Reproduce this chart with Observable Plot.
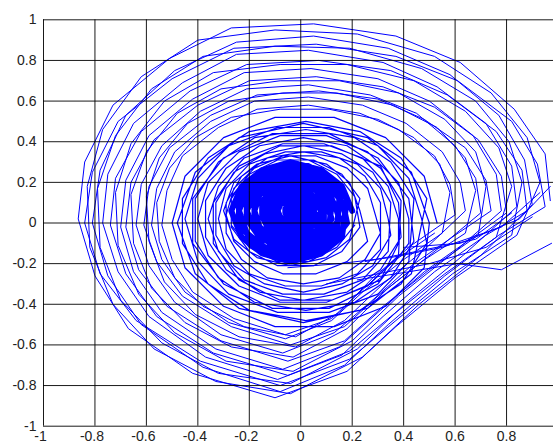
<!DOCTYPE html>
<html>
<head>
<meta charset="utf-8">
<script src="https://cdn.jsdelivr.net/npm/d3@7"></script>
<script src="https://cdn.jsdelivr.net/npm/@observablehq/plot@0.6"></script>
<style>
  html, body { margin: 0; padding: 0; background: #fff; overflow: hidden; }
  #chart svg { display: block; font-family: Arial, "Liberation Sans", sans-serif; }
</style>
</head>
<body>
<div id="chart"></div>
<script>
// Tick values (grid) and the x tick labels visible in the window
const xTicks = [-1, -0.8, -0.6, -0.4, -0.2, 0, 0.2, 0.4, 0.6, 0.8, 1];
const yTicks = [-1, -0.8, -0.6, -0.4, -0.2, 0, 0.2, 0.4, 0.6, 0.8, 1];
const xLabelTicks = [-1, -0.8, -0.6, -0.4, -0.2, 0, 0.2, 0.4, 0.6, 0.8];

// Outer loops of the trajectory, [x, y]
const outerLoops = [
  [[0.97,0.11],[0.95,0.34],[0.83,0.56],[0.62,0.79],[0.37,0.92],[0.05,0.98],[-0.27,0.96],[-0.51,0.81],[-0.73,0.58],[-0.84,0.30],[-0.865,0.02],[-0.80,-0.26],[-0.67,-0.52],[-0.42,-0.74],[-0.10,-0.86],[0.18,-0.73],[0.37,-0.51],[0.60,-0.27],[0.84,-0.06]],
  [[0.93,0.20],[0.88,0.42],[0.74,0.64],[0.52,0.82],[0.22,0.93],[-0.10,0.95],[-0.40,0.90],[-0.62,0.72],[-0.77,0.46],[-0.83,0.18],[-0.82,-0.12],[-0.73,-0.40],[-0.57,-0.62],[-0.33,-0.78],[-0.04,-0.84],[0.24,-0.66],[0.46,-0.40],[0.70,-0.16]],
  [[0.90,0.09],[0.87,0.31],[0.77,0.53],[0.58,0.73],[0.34,0.86],[0.05,0.92],[-0.25,0.89],[-0.49,0.75],[-0.68,0.53],[-0.78,0.26],[-0.81,0.0],[-0.75,-0.26],[-0.62,-0.50],[-0.38,-0.71],[-0.08,-0.83],[0.17,-0.70],[0.34,-0.50],[0.56,-0.26],[0.77,-0.06]],
  [[0.95,0.08],[0.92,0.29],[0.82,0.50],[0.61,0.70],[0.37,0.82],[0.06,0.88],[-0.26,0.86],[-0.50,0.71],[-0.71,0.50],[-0.81,0.25],[-0.84,0.0],[-0.78,-0.25],[-0.64,-0.48],[-0.39,-0.68],[-0.08,-0.80],[0.19,-0.67],[0.37,-0.48],[0.59,-0.25],[0.82,-0.06]],
  [[0.86,0.20],[0.81,0.40],[0.68,0.60],[0.47,0.76],[0.19,0.86],[-0.10,0.87],[-0.38,0.82],[-0.58,0.66],[-0.72,0.43],[-0.79,0.17],[-0.78,-0.12],[-0.70,-0.38],[-0.54,-0.59],[-0.32,-0.74],[-0.04,-0.79],[0.22,-0.62],[0.42,-0.38],[0.64,-0.15]],
  [[0.84,0.08],[0.82,0.28],[0.72,0.49],[0.53,0.67],[0.32,0.79],[0.03,0.85],[-0.25,0.83],[-0.46,0.69],[-0.65,0.49],[-0.75,0.24],[-0.77,0.0],[-0.71,-0.24],[-0.59,-0.46],[-0.37,-0.66],[-0.09,-0.77],[0.16,-0.65],[0.32,-0.46],[0.52,-0.24],[0.72,-0.06]],
  [[0.88,0.06],[0.86,0.26],[0.76,0.45],[0.57,0.63],[0.35,0.75],[0.07,0.80],[-0.21,0.78],[-0.43,0.65],[-0.62,0.45],[-0.72,0.22],[-0.74,-0.01],[-0.68,-0.25],[-0.56,-0.46],[-0.34,-0.64],[-0.05,-0.75],[0.19,-0.63],[0.35,-0.46],[0.56,-0.25],[0.76,-0.07]],
  [[0.82,0.18],[0.77,0.37],[0.64,0.55],[0.44,0.70],[0.18,0.78],[-0.08,0.78],[-0.34,0.74],[-0.53,0.60],[-0.66,0.39],[-0.72,0.15],[-0.71,-0.11],[-0.63,-0.35],[-0.49,-0.54],[-0.29,-0.68],[-0.03,-0.73],[0.20,-0.58],[0.38,-0.36],[0.60,-0.14]],
  [[0.78,0.06],[0.76,0.24],[0.67,0.43],[0.50,0.60],[0.30,0.71],[0.04,0.76],[-0.22,0.74],[-0.42,0.61],[-0.59,0.43],[-0.68,0.21],[-0.70,-0.02],[-0.65,-0.24],[-0.54,-0.44],[-0.33,-0.62],[-0.07,-0.72],[0.15,-0.61],[0.30,-0.44],[0.48,-0.24],[0.67,-0.07]],
  [[0.80,0.05],[0.78,0.23],[0.69,0.41],[0.52,0.57],[0.32,0.67],[0.06,0.72],[-0.20,0.70],[-0.40,0.58],[-0.57,0.41],[-0.66,0.20],[-0.68,-0.02],[-0.63,-0.23],[-0.52,-0.41],[-0.31,-0.58],[-0.05,-0.68],[0.17,-0.58],[0.32,-0.41],[0.50,-0.23],[0.69,-0.06]],
  [[0.72,0.18],[0.68,0.35],[0.56,0.51],[0.38,0.64],[0.15,0.70],[-0.08,0.70],[-0.31,0.66],[-0.48,0.54],[-0.60,0.35],[-0.66,0.14],[-0.65,-0.10],[-0.58,-0.32],[-0.45,-0.49],[-0.27,-0.61],[-0.03,-0.66],[0.18,-0.52],[0.34,-0.32],[0.53,-0.13]],
  [[0.70,0.05],[0.68,0.22],[0.60,0.38],[0.45,0.54],[0.27,0.63],[0.03,0.68],[-0.21,0.66],[-0.39,0.55],[-0.54,0.38],[-0.62,0.19],[-0.64,-0.01],[-0.59,-0.21],[-0.49,-0.39],[-0.31,-0.55],[-0.07,-0.64],[0.13,-0.54],[0.27,-0.39],[0.43,-0.21],[0.60,-0.06]],
  [[0.74,0.06],[0.72,0.21],[0.64,0.37],[0.48,0.51],[0.30,0.61],[0.07,0.65],[-0.17,0.63],[-0.35,0.53],[-0.51,0.37],[-0.59,0.18],[-0.61,-0.01],[-0.56,-0.19],[-0.46,-0.36],[-0.27,-0.51],[-0.04,-0.60],[0.17,-0.51],[0.30,-0.36],[0.47,-0.19],[0.64,-0.05]],
  [[0.68,0.16],[0.64,0.32],[0.53,0.47],[0.36,0.58],[0.14,0.64],[-0.07,0.64],[-0.28,0.60],[-0.44,0.49],[-0.55,0.32],[-0.60,0.13],[-0.59,-0.09],[-0.53,-0.29],[-0.41,-0.45],[-0.24,-0.56],[-0.02,-0.61],[0.17,-0.48],[0.32,-0.30],[0.49,-0.12]],
  [[0.64,0.06],[0.62,0.20],[0.55,0.35],[0.41,0.49],[0.24,0.58],[0.03,0.62],[-0.18,0.60],[-0.35,0.50],[-0.49,0.35],[-0.56,0.17],[-0.58,-0.01],[-0.54,-0.18],[-0.45,-0.34],[-0.28,-0.49],[-0.06,-0.57],[0.12,-0.48],[0.24,-0.34],[0.40,-0.18],[0.55,-0.05]],
  [[0.58,0.15],[0.54,0.29],[0.44,0.42],[0.30,0.51],[0.11,0.56],[-0.08,0.56],[-0.27,0.52],[-0.41,0.42],[-0.51,0.27],[-0.56,0.10],[-0.55,-0.09],[-0.49,-0.27],[-0.38,-0.41],[-0.22,-0.51],[-0.02,-0.56],[0.15,-0.44],[0.28,-0.27],[0.43,-0.11]],
  [[0.60,0.04],[0.58,0.19],[0.52,0.33],[0.38,0.46],[0.23,0.54],[0.03,0.58],[-0.17,0.56],[-0.32,0.47],[-0.46,0.33],[-0.52,0.16],[-0.54,-0.01],[-0.50,-0.18],[-0.42,-0.34],[-0.26,-0.47],[-0.06,-0.55],[0.12,-0.47],[0.23,-0.34],[0.37,-0.18],[0.52,-0.05]]
];

// Middle loops
const midLoops = [
  [[0.53,0.0],[0.48,0.23],[0.33,0.42],[0.13,0.52],[-0.10,0.52],[-0.30,0.42],[-0.45,0.23],[-0.50,0.0],[-0.45,-0.22],[-0.30,-0.41],[-0.10,-0.51],[0.13,-0.51],[0.33,-0.41],[0.48,-0.22]],
  [[0.50,0.0],[0.43,0.25],[0.26,0.42],[0.01,0.49],[-0.24,0.42],[-0.41,0.25],[-0.48,0.0],[-0.41,-0.25],[-0.24,-0.42],[0.01,-0.49],[0.26,-0.42],[0.43,-0.25]],
  [[0.49,0.12],[0.39,0.32],[0.23,0.45],[0.02,0.50],[-0.20,0.45],[-0.36,0.32],[-0.46,0.12],[-0.46,-0.10],[-0.36,-0.30],[-0.20,-0.43],[0.02,-0.48],[0.23,-0.43],[0.39,-0.30],[0.49,-0.10]],
  [[0.47,0.02],[0.42,0.22],[0.30,0.38],[0.11,0.47],[-0.09,0.47],[-0.28,0.38],[-0.40,0.22],[-0.45,0.02],[-0.40,-0.19],[-0.28,-0.35],[-0.09,-0.44],[0.11,-0.44],[0.30,-0.35],[0.42,-0.19]],
  [[0.44,0.12],[0.35,0.30],[0.21,0.42],[0.02,0.46],[-0.18,0.42],[-0.32,0.30],[-0.41,0.12],[-0.41,-0.09],[-0.32,-0.27],[-0.18,-0.39],[0.02,-0.43],[0.21,-0.39],[0.35,-0.27],[0.44,-0.09]],
  [[0.42,0.12],[0.30,0.32],[0.11,0.44],[-0.11,0.44],[-0.30,0.32],[-0.42,0.12],[-0.42,-0.10],[-0.30,-0.30],[-0.11,-0.42],[0.11,-0.42],[0.30,-0.30],[0.42,-0.10]],
  [[0.42,0.02],[0.38,0.20],[0.26,0.35],[0.10,0.43],[-0.08,0.43],[-0.24,0.35],[-0.36,0.20],[-0.40,0.02],[-0.36,-0.16],[-0.24,-0.31],[-0.08,-0.39],[0.10,-0.39],[0.26,-0.31],[0.38,-0.16]],
  [[0.39,0.11],[0.31,0.27],[0.18,0.38],[0.01,0.42],[-0.16,0.38],[-0.29,0.27],[-0.37,0.11],[-0.37,-0.07],[-0.29,-0.23],[-0.16,-0.34],[0.01,-0.38],[0.18,-0.34],[0.31,-0.23],[0.39,-0.07]],
  [[0.38,0.10],[0.31,0.28],[0.12,0.38],[-0.08,0.38],[-0.24,0.28],[-0.34,0.10],[-0.34,-0.10],[-0.24,-0.28],[-0.08,-0.38],[0.12,-0.38],[0.31,-0.28],[0.38,-0.10]],
  [[0.38,0.02],[0.34,0.18],[0.24,0.32],[0.09,0.39],[-0.07,0.39],[-0.22,0.32],[-0.32,0.18],[-0.36,0.02],[-0.32,-0.14],[-0.22,-0.28],[-0.07,-0.35],[0.09,-0.35],[0.24,-0.28],[0.34,-0.14]],
  [[0.35,0.10],[0.28,0.25],[0.16,0.34],[0.01,0.38],[-0.14,0.34],[-0.26,0.25],[-0.33,0.10],[-0.33,-0.06],[-0.26,-0.21],[-0.14,-0.30],[0.01,-0.34],[0.16,-0.30],[0.28,-0.21],[0.35,-0.06]],
  [[0.34,0.02],[0.31,0.17],[0.22,0.29],[0.08,0.35],[-0.06,0.35],[-0.20,0.29],[-0.29,0.17],[-0.32,0.02],[-0.29,-0.13],[-0.20,-0.25],[-0.06,-0.31],[0.08,-0.31],[0.22,-0.25],[0.31,-0.13]],
  [[0.31,0.10],[0.25,0.23],[0.15,0.32],[0.01,0.35],[-0.13,0.32],[-0.23,0.23],[-0.29,0.10],[-0.29,-0.05],[-0.23,-0.18],[-0.13,-0.27],[0.01,-0.30],[0.15,-0.27],[0.25,-0.18],[0.31,-0.05]],
  [[0.29,0.04],[0.26,0.17],[0.18,0.27],[0.06,0.33],[-0.07,0.33],[-0.18,0.27],[-0.26,0.17],[-0.29,0.04],[-0.26,-0.09],[-0.18,-0.19],[-0.07,-0.25],[0.06,-0.25],[0.18,-0.19],[0.26,-0.09]],
  [[0.23,0.06],[0.19,0.20],[0.10,0.29],[-0.04,0.33],[-0.17,0.29],[-0.26,0.20],[-0.30,0.06],[-0.26,-0.08],[-0.17,-0.17],[-0.04,-0.21],[0.10,-0.17],[0.19,-0.08]],
  [[0.23,0.12],[0.16,0.24],[0.05,0.31],[-0.09,0.31],[-0.20,0.24],[-0.27,0.12],[-0.27,-0.02],[-0.20,-0.14],[-0.09,-0.21],[0.05,-0.21],[0.16,-0.14],[0.23,-0.02]],
  [[0.21,0.13],[0.14,0.24],[0.03,0.31],[-0.09,0.31],[-0.20,0.24],[-0.27,0.13],[-0.27,-0.01],[-0.20,-0.12],[-0.09,-0.19],[0.03,-0.19],[0.14,-0.12],[0.21,-0.01]]
];

// Dense core loops
const coreLoops = [
  [[0.20,0.06],[0.16,0.18],[0.08,0.26],[-0.04,0.30],[-0.15,0.26],[-0.23,0.18],[-0.27,0.06],[-0.23,-0.07],[-0.15,-0.15],[-0.04,-0.19],[0.08,-0.15],[0.16,-0.07]],
  [[0.18,0.12],[0.12,0.22],[0.03,0.28],[-0.09,0.28],[-0.18,0.22],[-0.24,0.12],[-0.24,0.0],[-0.18,-0.10],[-0.09,-0.16],[0.03,-0.16],[0.12,-0.10],[0.18,0.0]],
  [[0.17,0.06],[0.14,0.17],[0.07,0.24],[-0.04,0.27],[-0.14,0.24],[-0.21,0.17],[-0.24,0.06],[-0.21,-0.05],[-0.14,-0.12],[-0.04,-0.15],[0.07,-0.12],[0.14,-0.05]],
  [[0.15,0.12],[0.10,0.20],[0.02,0.25],[-0.08,0.25],[-0.16,0.20],[-0.21,0.12],[-0.21,0.02],[-0.16,-0.07],[-0.08,-0.12],[0.02,-0.12],[0.10,-0.07],[0.15,0.02]],
  [[0.14,0.06],[0.11,0.15],[0.05,0.22],[-0.04,0.24],[-0.12,0.22],[-0.18,0.15],[-0.21,0.06],[-0.18,-0.03],[-0.12,-0.10],[-0.04,-0.12],[0.05,-0.10],[0.11,-0.03]],
  [[0.12,0.10],[0.08,0.18],[0.01,0.22],[-0.07,0.22],[-0.14,0.18],[-0.18,0.10],[-0.18,0.02],[-0.14,-0.06],[-0.07,-0.10],[0.01,-0.10],[0.08,-0.06],[0.12,0.02]],
  [[0.11,0.06],[0.09,0.14],[0.04,0.19],[-0.04,0.21],[-0.11,0.19],[-0.16,0.14],[-0.18,0.06],[-0.16,-0.02],[-0.11,-0.07],[-0.04,-0.09],[0.04,-0.07],[0.09,-0.02]],
  [[0.09,0.10],[0.06,0.16],[0.0,0.19],[-0.06,0.19],[-0.12,0.16],[-0.15,0.10],[-0.15,0.03],[-0.12,-0.04],[-0.06,-0.07],[0.0,-0.07],[0.06,-0.04],[0.09,0.03]],
  [[0.07,0.08],[0.04,0.14],[-0.02,0.17],[-0.08,0.16],[-0.11,0.11],[-0.12,0.05],[-0.09,-0.01],[-0.03,-0.03],[0.03,-0.01],[0.07,0.03]],
  [[0.08,0.06],[0.06,0.12],[0.02,0.16],[-0.04,0.18],[-0.09,0.16],[-0.13,0.12],[-0.15,0.06],[-0.13,0.0],[-0.09,-0.04],[-0.04,-0.06],[0.02,-0.04],[0.06,0.0]],
  [[0.04,0.04],[0.02,0.10],[-0.03,0.13],[-0.09,0.13],[-0.13,0.09],[-0.14,0.04],[-0.12,-0.01],[-0.07,-0.04],[-0.01,-0.03],[0.03,0.0]],
  [[0.06,0.09],[0.04,0.13],[-0.01,0.16],[-0.06,0.16],[-0.10,0.13],[-0.12,0.09],[-0.12,0.03],[-0.10,-0.01],[-0.06,-0.04],[-0.01,-0.04],[0.04,-0.01],[0.06,0.03]],
  [[0.05,0.06],[0.03,0.11],[0.01,0.14],[-0.04,0.15],[-0.08,0.14],[-0.10,0.11],[-0.12,0.06],[-0.10,0.02],[-0.08,-0.02],[-0.04,-0.03],[0.01,-0.02],[0.03,0.02]],
  [[0.03,0.08],[0.02,0.11],[-0.01,0.13],[-0.05,0.13],[-0.08,0.11],[-0.09,0.08],[-0.09,0.04],[-0.08,0.01],[-0.05,-0.01],[-0.01,-0.01],[0.02,0.01],[0.03,0.04]],
  [[0.0,0.02],[-0.02,0.08],[-0.07,0.10],[-0.11,0.07],[-0.10,0.02],[-0.06,-0.01],[-0.02,0.0]],
  [[0.02,0.06],[0.01,0.09],[-0.01,0.11],[-0.04,0.12],[-0.06,0.11],[-0.08,0.09],[-0.09,0.06],[-0.08,0.03],[-0.06,0.01],[-0.04,0.0],[-0.01,0.01],[0.01,0.03]],
  [[0.0,0.07],[-0.01,0.09],[-0.03,0.095],[-0.05,0.09],[-0.06,0.07],[-0.06,0.05],[-0.05,0.03],[-0.03,0.025],[-0.01,0.03],[0.0,0.05]],
  [[-0.02,0.06],[-0.03,0.075],[-0.045,0.07],[-0.05,0.055],[-0.04,0.045],[-0.025,0.05],[-0.02,0.06]]
];

// Transition strands from the right side into the middle
const bridges = [
  [[0.93,0.15],[0.78,-0.02],[0.55,-0.12],[0.35,-0.17],[0.15,-0.20],[-0.05,-0.22]],
  [[0.82,0.05],[0.68,-0.08],[0.45,-0.14],[0.25,-0.19]],
  [[0.90,0.03],[0.72,-0.12],[0.50,-0.20],[0.30,-0.25],[0.10,-0.30]],
  [[0.97,0.18],[0.85,0.02],[0.62,-0.10],[0.40,-0.12]],
  [[0.975,-0.10],[0.78,-0.23],[0.61,-0.20],[0.42,-0.24],[0.22,-0.28]]
];

function rows(loops, group) {
  const out = [];
  loops.forEach((loop, i) => loop.forEach(([x, y]) => out.push({x, y, group, id: group + i})));
  return out;
}
const outerRows = rows([outerLoops.flat()], "outer");
const midRows = rows([midLoops.flat()], "mid");
const coreRows = rows([coreLoops.flat()], "core");
const bridgeRows = rows(bridges, "bridge");

const negX = xLabelTicks.filter(d => d < 0);
const posX = xLabelTicks.filter(d => d >= 0);

const chart = Plot.plot({
  width: 553,
  height: 445,
  marginLeft: 43,
  marginRight: -4.5,
  marginTop: 19.3,
  marginBottom: 19.3,
  style: {fontFamily: "Arial, 'Liberation Sans', sans-serif", fontSize: "14px", background: "#fff", overflow: "hidden"},
  x: {domain: [-1, 1], axis: null},
  y: {domain: [-1, 1], axis: null},
  marks: [
    Plot.line(outerRows, {x: "x", y: "y", z: "id", stroke: "#0000ff", strokeWidth: 1}),
    Plot.line(bridgeRows, {x: "x", y: "y", z: "id", stroke: "#0000ff", strokeWidth: 1}),
    Plot.line(midRows, {x: "x", y: "y", z: "id", stroke: "#0000ff", strokeWidth: 1.2}),
    Plot.line(coreRows, {x: "x", y: "y", z: "id", stroke: "#0000ff", strokeWidth: 6}),
    Plot.gridX(xTicks, {stroke: "#000", strokeOpacity: 0.9, strokeWidth: 1}),
    Plot.gridY(yTicks, {stroke: "#000", strokeOpacity: 0.9, strokeWidth: 1}),
    Plot.axisX(negX, {label: null, tickSize: 0, tickPadding: 5, dx: -3, tickFormat: d => String(d), fill: "#222", fontSize: 14}),
    Plot.axisX(posX, {label: null, tickSize: 0, tickPadding: 5, tickFormat: d => String(d), fill: "#222", fontSize: 14}),
    Plot.axisY(yTicks, {label: null, tickSize: 0, tickPadding: 7, tickFormat: d => String(d), fill: "#222", fontSize: 14})
  ]
});
document.getElementById("chart").appendChild(chart);
</script>
</body>
</html>
